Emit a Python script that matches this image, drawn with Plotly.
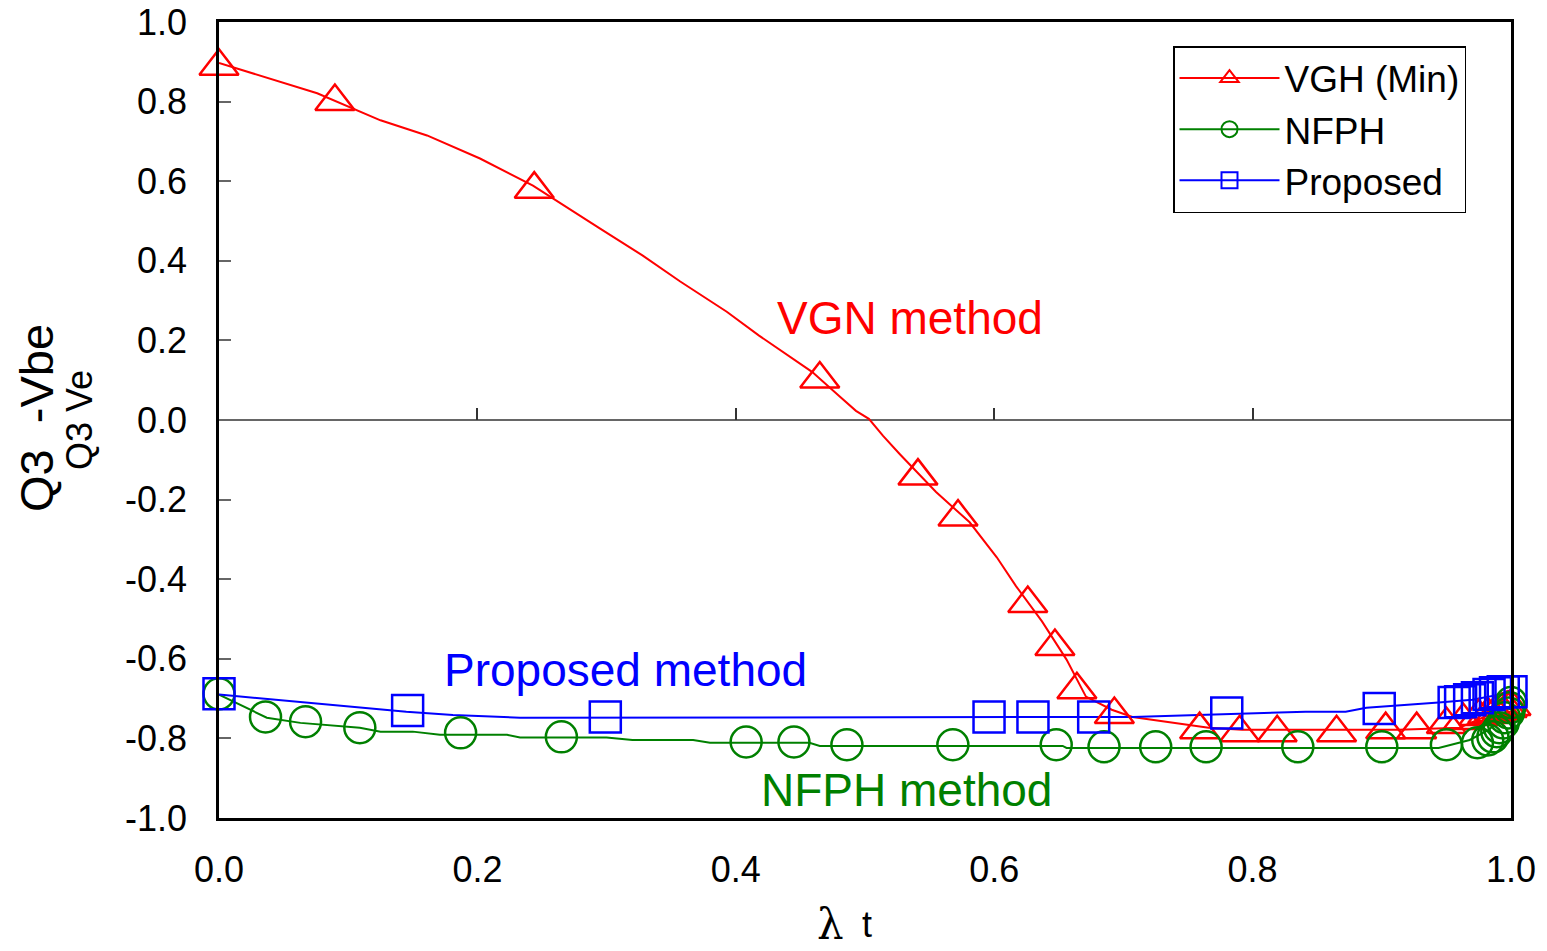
import plotly.graph_objects as go

# ---------------- data ----------------
# VGH (Min) / VGN method  (red)
vgn_line_x = [0, 0.076, 0.125, 0.161, 0.202, 0.243, 0.295, 0.328, 0.357, 0.393, 0.418, 0.459,
              0.480, 0.493, 0.503, 0.514, 0.527, 0.555, 0.581, 0.602, 0.617, 0.637, 0.656, 0.671,
              0.691, 0.707, 0.766, 0.792, 0.913, 0.960, 0.983, 1.0]
vgn_line_y = [0.897, 0.821, 0.753, 0.715, 0.657, 0.589, 0.481, 0.413, 0.348, 0.272, 0.212, 0.121,
              0.060, 0.023, 0.003, -0.040, -0.086, -0.181, -0.257, -0.345, -0.418, -0.506, -0.602, -0.695,
              -0.728, -0.746, -0.773, -0.778, -0.778, -0.773, -0.741, -0.733]
vgn_mark_x = [0, 0.0897, 0.244, 0.465, 0.541, 0.572, 0.626, 0.647, 0.664, 0.693, 0.759, 0.790,
              0.819, 0.865, 0.903, 0.927, 0.950, 0.963, 0.975, 0.982, 0.988, 0.993, 0.997, 1.0]
vgn_mark_y = [0.889, 0.800, 0.580, 0.103, -0.141, -0.244, -0.461, -0.569, -0.678, -0.740, -0.778, -0.786,
              -0.786, -0.786, -0.778, -0.778, -0.765, -0.755, -0.745, -0.740, -0.735, -0.730, -0.725, -0.720]

# NFPH method (green)
nfph_line_x = [0, 0.037, 0.063, 0.109, 0.125, 0.150, 0.171, 0.223, 0.233, 0.300, 0.320, 0.367,
               0.380, 0.457, 0.465, 0.653, 0.656, 0.944, 0.968, 0.983, 0.991, 1.0]
nfph_line_y = [-0.690, -0.748, -0.761, -0.773, -0.783, -0.783, -0.791, -0.791, -0.798, -0.798, -0.804, -0.804,
               -0.811, -0.811, -0.819, -0.819, -0.824, -0.824, -0.804, -0.778, -0.753, -0.715]
nfph_mark_x = [0, 0.036, 0.067, 0.109, 0.187, 0.265, 0.408, 0.445, 0.486, 0.568, 0.648, 0.685,
               0.725, 0.764, 0.835, 0.900, 0.950, 0.974, 0.982, 0.986, 0.989, 0.991, 0.994, 0.995,
               0.998, 0.999, 1.0]
nfph_mark_y = [-0.688, -0.746, -0.758, -0.773, -0.786, -0.796, -0.809, -0.809, -0.816, -0.816, -0.816, -0.821,
               -0.821, -0.821, -0.821, -0.821, -0.816, -0.811, -0.804, -0.796, -0.783, -0.773, -0.761, -0.748,
               -0.736, -0.723, -0.710]

# Proposed method (blue)
prop_line_x = [0, 0.145, 0.181, 0.233, 0.707, 0.759, 0.841, 0.872, 0.888, 0.944, 0.970, 0.991, 1.0]
prop_line_y = [-0.690, -0.733, -0.741, -0.748, -0.746, -0.741, -0.733, -0.733, -0.723, -0.710, -0.703, -0.690, -0.678]
prop_mark_x = [0, 0.146, 0.299, 0.596, 0.630, 0.677, 0.780, 0.898, 0.956, 0.961, 0.968, 0.974,
               0.983, 0.988, 0.994, 1.0]
prop_mark_y = [-0.688, -0.730, -0.746, -0.746, -0.746, -0.746, -0.736, -0.725, -0.710, -0.708, -0.703, -0.698,
               -0.690, -0.685, -0.683, -0.683]

x_tick_vals = [0.0, 0.2, 0.4, 0.6, 0.8, 1.0]
x_tick_text = ["0.0", "0.2", "0.4", "0.6", "0.8", "1.0"]
y_tick_vals = [1.0, 0.8, 0.6, 0.4, 0.2, 0.0, -0.2, -0.4, -0.6, -0.8, -1.0]
y_tick_text = ["1.0", "0.8", "0.6", "0.4", "0.2", "0.0", "-0.2", "-0.4", "-0.6", "-0.8", "-1.0"]

legend_names = ["VGH (Min)", "NFPH", "Proposed"]

RED, GREEN, BLUE = "#FF0000", "#008000", "#0000FF"
FONT = "Liberation Sans, Arial, sans-serif"

PL, PT, PW, PH = 219, 22, 1292, 796   # desired plot area in page pixels
W, H = 1547, 951


def px(xp):
    return (xp - PL) / PW


def py(yp):
    return (PT + PH - yp) / PH


fig = go.Figure()

series = [
    (vgn_line_x, vgn_line_y, vgn_mark_x, vgn_mark_y, RED, "triangle-up-open", 34),
    (nfph_line_x, nfph_line_y, nfph_mark_x, nfph_mark_y, GREEN, "circle-open", 31),
    (prop_line_x, prop_line_y, prop_mark_x, prop_mark_y, BLUE, "square-open", 31),
]

for (lx, ly, mx, my, col, sym, sz) in series:
    fig.add_trace(go.Scatter(x=lx, y=ly, mode="lines", line=dict(color=col, width=2),
                             showlegend=False, hoverinfo="skip", cliponaxis=False))
for (lx, ly, mx, my, col, sym, sz) in series:
    fig.add_trace(go.Scatter(x=mx, y=my, mode="markers", cliponaxis=False,
                             marker=dict(symbol=sym, size=sz, color=col, line=dict(color=col, width=2.5)),
                             showlegend=False))

# legend-only entries
for name, (lx, ly, mx, my, col, sym, sz) in zip(legend_names, series):
    fig.add_trace(go.Scatter(x=[None], y=[None], mode="lines+markers", name=name, legendgroup=name,
                             line=dict(color=col, width=2),
                             marker=dict(symbol=sym, size=sz, color=col, line=dict(color=col, width=2))))

# dummy axis for tick marks along y = 0
fig.add_trace(go.Scatter(x=[0, 1], y=[0, 0], xaxis="x2", mode="lines", line=dict(width=0),
                         showlegend=False, hoverinfo="skip"))

fig.update_layout(
    width=W, height=H,
    margin=dict(l=PL, r=W - (PL + PW), t=PT, b=H - (PT + PH), autoexpand=False),
    plot_bgcolor="white", paper_bgcolor="white",
    font=dict(family=FONT, color="black", size=36),
    xaxis=dict(range=[0, 1], tickvals=x_tick_vals, ticktext=x_tick_text, ticks="",
               showgrid=False, zeroline=False, showline=True, mirror=True, automargin=False,
               linecolor="black", linewidth=2.5, ticklabelstandoff=18, ticklabeloverflow="allow",
               tickfont=dict(family=FONT, size=36)),
    xaxis2=dict(range=[0, 1], overlaying="x", anchor="free", position=0.5, side="bottom",
                tickvals=[0.2, 0.4, 0.6, 0.8], ticks="inside", ticklen=12, tickwidth=1.5,
                tickcolor="#333333", showticklabels=False, showgrid=False, zeroline=False,
                showline=False, automargin=False),
    yaxis=dict(range=[-1, 1], tickvals=y_tick_vals, ticktext=y_tick_text, ticks="inside",
               ticklen=12, tickwidth=1.5, tickcolor="#666666", automargin=False,
               showgrid=False, zeroline=True, zerolinecolor="#666666", zerolinewidth=1.5,
               showline=True, mirror=True, linecolor="black", linewidth=2.5,
               ticklabelstandoff=22, ticklabeloverflow="allow",
               tickfont=dict(family=FONT, size=36)),
    legend=dict(x=px(1173), y=py(46), xanchor="left", yanchor="top",
                bgcolor="white", bordercolor="black", borderwidth=1.5,
                font=dict(family=FONT, size=37, color="black"),
                itemwidth=100, traceorder="grouped", tracegroupgap=0),
    showlegend=True,
)

annots = [
    dict(text="VGN method", x=910, y=318, color=RED, size=46),
    dict(text="Proposed method", x=625, y=670, color=BLUE, size=46),
    dict(text="NFPH method", x=906, y=790, color=GREEN, size=46),
]
for a in annots:
    fig.add_annotation(text=a["text"], xref="paper", yref="paper",
                       x=px(a["x"]), y=py(a["y"]),
                       showarrow=False, xanchor="center", yanchor="middle",
                       font=dict(family=FONT, size=a["size"], color=a["color"]))

# axis titles
fig.add_annotation(text="Q3  -Vbe", xref="paper", yref="paper",
                   x=px(36), y=py(418), textangle=-90,
                   showarrow=False, xanchor="center", yanchor="middle",
                   font=dict(family=FONT, size=47, color="black"))
fig.add_annotation(text="Q3 Ve", xref="paper", yref="paper",
                   x=px(79), y=py(420), textangle=-90,
                   showarrow=False, xanchor="center", yanchor="middle",
                   font=dict(family=FONT, size=36, color="black"))
fig.add_annotation(text="λ", xref="paper", yref="paper",
                   x=px(830), y=py(924),
                   showarrow=False, xanchor="center", yanchor="middle",
                   font=dict(family="DejaVu Serif, serif", size=42, color="black"))
fig.add_annotation(text="t", xref="paper", yref="paper",
                   x=px(867), y=py(924),
                   showarrow=False, xanchor="center", yanchor="middle",
                   font=dict(family=FONT, size=36, color="black"))

fig.write_html("out.html", config={"displayModeBar": False},
               post_script="document.body.style.margin='0';document.body.style.overflow='hidden';")
